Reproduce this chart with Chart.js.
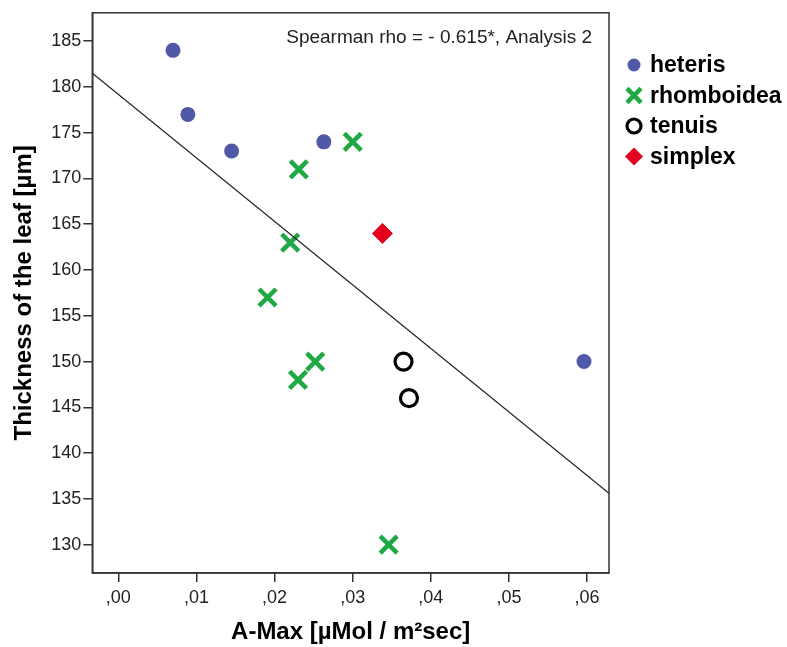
<!DOCTYPE html>
<html lang="en">
<head>
  <meta charset="UTF-8">
  <title>Thickness of the leaf vs A-Max</title>
  <script src="https://cdn.jsdelivr.net/npm/chart.js"></script>
  <style>
    body {
      margin: 0;
      background: #fff;
    }
    canvas {
      display: block;
    }
  </style>
</head>
<body>
  <canvas id="scatterChart" width="787" height="647"></canvas>

  <script>
    // Values
    const heterisX = [0.0070, 0.0089, 0.0145, 0.0263, 0.0596];
    const heterisY = [184, 177, 173, 174, 150];

    const rhomboideaX = [0.0300, 0.0231, 0.0220, 0.0191, 0.0252, 0.0230, 0.0346];
    const rhomboideaY = [174, 171, 163, 157, 150, 148, 130];

    const tenuisX = [0.0365, 0.0372];
    const tenuisY = [150, 146];

    const simplexX = [0.0338];
    const simplexY = [164];

    // fit line end points (at the axis limits)
    const fitX = [-0.00333, 0.0628];
    const fitY = [181.5, 135.6];

    const xTicks = [0, 0.01, 0.02, 0.03, 0.04, 0.05, 0.06];
    const yTicks = [130, 135, 140, 145, 150, 155, 160, 165, 170, 175, 180, 185];

    const toPoints = (xs, ys) => xs.map((x, i) => ({ x: x, y: ys[i] }));

    const FONT = "'Liberation Sans', Arial, sans-serif";

    // frame round the plot area + the Spearman note
    const framePlugin = {
      id: 'frame',
      afterDraw(chart) {
        const a = chart.chartArea;
        const ctx = chart.ctx;
        ctx.save();
        ctx.strokeStyle = '#333';
        ctx.lineWidth = 1.5;
        ctx.strokeRect(a.left, a.top, a.right - a.left, a.bottom - a.top);
        ctx.fillStyle = '#222';
        ctx.font = '19px ' + FONT;
        ctx.textAlign = 'right';
        ctx.textBaseline = 'middle';
        ctx.fillText('Spearman rho = - 0.615*, Analysis 2', a.right - 17, 38);
        ctx.restore();
      }
    };

    // legend on the right, drawn with the dataset styles
    function drawMarker(ctx, ds, x, y, r) {
      ctx.save();
      ctx.fillStyle = ds.backgroundColor;
      ctx.strokeStyle = ds.borderColor;
      ctx.lineWidth = ds.borderWidth;
      ctx.beginPath();
      if (ds.pointStyle === 'circle') {
        ctx.arc(x, y, r, 0, Math.PI * 2);
        ctx.fill();
        if (ds.borderWidth) ctx.stroke();
      } else if (ds.pointStyle === 'crossRot') {
        const d = r * Math.SQRT1_2;
        ctx.moveTo(x - d, y - d); ctx.lineTo(x + d, y + d);
        ctx.moveTo(x - d, y + d); ctx.lineTo(x + d, y - d);
        ctx.stroke();
      } else if (ds.pointStyle === 'rectRot') {
        ctx.moveTo(x, y - r); ctx.lineTo(x + r, y);
        ctx.lineTo(x, y + r); ctx.lineTo(x - r, y);
        ctx.closePath();
        ctx.fill();
      }
      ctx.restore();
    }

    const legendPlugin = {
      id: 'sideLegend',
      afterDraw(chart) {
        const ctx = chart.ctx;
        const sizes = [6.5, 10, 7, 9];
        let y = 65;
        ctx.save();
        ctx.font = 'bold 23px ' + FONT;
        ctx.fillStyle = '#000';
        ctx.textBaseline = 'middle';
        ctx.textAlign = 'left';
        chart.data.datasets.forEach((ds, i) => {
          if (ds.type === 'line') return;
          drawMarker(ctx, ds, 634, y, sizes[i]);
          ctx.fillText(ds.label, 650, y + 1);
          y += 30.5;
        });
        ctx.restore();
      }
    };

    const ctx = document.getElementById('scatterChart').getContext('2d');
    new Chart(ctx, {
      type: 'scatter',
      data: {
        datasets: [
          {
            label: 'heteris',
            data: toPoints(heterisX, heterisY),
            pointStyle: 'circle',
            pointRadius: 7.5,
            backgroundColor: '#5158a8',
            borderColor: '#5158a8',
            borderWidth: 0
          },
          {
            label: 'rhomboidea',
            data: toPoints(rhomboideaX, rhomboideaY),
            pointStyle: 'crossRot',
            pointRadius: 12,
            backgroundColor: '#1fa843',
            borderColor: '#1fa843',
            borderWidth: 4.5
          },
          {
            label: 'tenuis',
            data: toPoints(tenuisX, tenuisY),
            pointStyle: 'circle',
            pointRadius: 8.5,
            backgroundColor: 'rgba(255,255,255,0)',
            borderColor: '#000',
            borderWidth: 3.2
          },
          {
            label: 'simplex',
            data: toPoints(simplexX, simplexY),
            pointStyle: 'rectRot',
            pointRadius: 10,
            backgroundColor: '#e3001f',
            borderColor: '#e3001f',
            borderWidth: 1
          },
          {
            type: 'line',
            label: 'fit',
            data: toPoints(fitX, fitY),
            borderColor: '#222',
            borderWidth: 1.3,
            pointRadius: 0,
            fill: false,
            order: -1
          }
        ]
      },
      options: {
        responsive: false,
        animation: false,
        layout: { autoPadding: false, padding: { top: 10.7, right: 178, left: 0, bottom: 0 } },
        plugins: {
          legend: { display: false },
          tooltip: { enabled: false }
        },
        scales: {
          x: {
            type: 'linear',
            min: -0.00333,
            max: 0.0628,
            afterBuildTicks: axis => { axis.ticks = xTicks.map(v => ({ value: v })); },
            afterFit: axis => { axis.height = 74; },
            grid: { drawOnChartArea: false, drawTicks: true, tickLength: 9, color: '#333', lineWidth: 1.5 },
            border: { display: true, color: '#333', width: 1.5 },
            ticks: {
              color: '#222',
              font: { family: FONT, size: 18 },
              padding: 5,
              maxRotation: 0,
              callback: v => ',' + (Math.round(v * 100)).toString().padStart(2, '0')
            },
            title: {
              display: true,
              text: 'A-Max [µMol / m²sec]',
              color: '#000',
              font: { family: FONT, size: 24, weight: 'bold' },
              padding: { top: 8, bottom: 0 }
            }
          },
          y: {
            type: 'linear',
            min: 126.9,
            max: 188.1,
            afterBuildTicks: axis => { axis.ticks = yTicks.map(v => ({ value: v })); },
            afterFit: axis => { axis.width = 92.3; },
            grid: { drawOnChartArea: false, drawTicks: true, tickLength: 9, color: '#333', lineWidth: 1.5 },
            border: { display: true, color: '#333', width: 1.5 },
            ticks: {
              color: '#222',
              font: { family: FONT, size: 18 },
              padding: 2
            },
            title: {
              display: true,
              text: 'Thickness of the leaf [µm]',
              color: '#000',
              font: { family: FONT, size: 24, weight: 'bold' },
              padding: { top: 10, bottom: 0 }
            }
          }
        }
      },
      plugins: [framePlugin, legendPlugin]
    });
  </script>
</body>
</html>
